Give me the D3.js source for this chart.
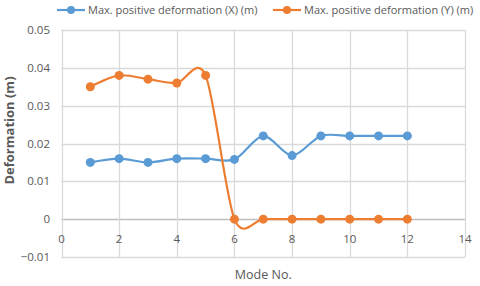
<!DOCTYPE html>
<html>
<head>
<meta charset="utf-8">
<script src="https://cdn.jsdelivr.net/npm/d3@7"></script>
<style>
  body { margin: 0; background: #fff; }
  text { font-family: "Open Sans", sans-serif; fill: #595959; }
</style>
</head>
<body>
<div id="chart"></div>
<script>
// data
var modes = [1, 2, 3, 4, 5, 6, 7, 8, 9, 10, 11, 12];
var defX = [0.015, 0.016, 0.015, 0.016, 0.016, 0.0158, 0.022, 0.0168, 0.022, 0.022, 0.022, 0.022];
var defY = [0.035, 0.038, 0.037, 0.036, 0.038, 0, 0, 0, 0, 0, 0, 0];
var seriesNames = ["Max. positive deformation (X) (m)", "Max. positive deformation (Y) (m)"];
var seriesColors = ["#5B9BD5", "#ED7D31"];
var xTicks = [0, 2, 4, 6, 8, 10, 12, 14];
var yTicks = [-0.01, 0, 0.01, 0.02, 0.03, 0.04, 0.05];

var width = 480, height = 286;
var plot = {left: 61.5, right: 465, top: 30, bottom: 257};

var svg = d3.select("#chart").append("svg")
  .attr("width", width)
  .attr("height", height);

var x = d3.scaleLinear().domain([0, 14]).range([plot.left, plot.right]);
var y = d3.scaleLinear().domain([-0.01, 0.05]).range([plot.bottom, plot.top]);

// grid
var grid = svg.append("g");
grid.selectAll(".hg").data(yTicks).enter().append("line")
  .attr("x1", plot.left).attr("x2", plot.right)
  .attr("y1", function(d) { return Math.round(y(d)) + 0.5; })
  .attr("y2", function(d) { return Math.round(y(d)) + 0.5; })
  .attr("stroke", function(d) { return d === 0 ? "#bfbfbf" : "#d9d9d9"; })
  .attr("stroke-width", 1.3);
grid.selectAll(".vg").data(xTicks).enter().append("line")
  .attr("y1", plot.top).attr("y2", plot.bottom)
  .attr("x1", function(d) { return Math.round(x(d)) + 0.5; })
  .attr("x2", function(d) { return Math.round(x(d)) + 0.5; })
  .attr("stroke", "#d9d9d9")
  .attr("stroke-width", 1.3);

// tick labels
svg.append("g").selectAll("text").data(yTicks).enter().append("text")
  .attr("x", 50)
  .attr("y", function(d) { return y(d) + 4; })
  .attr("text-anchor", "end")
  .style("font-size", "11.5px")
  .text(function(d) { return d === 0 ? "0" : d3.format(".2f")(d); });

svg.append("g").selectAll("text").data(xTicks).enter().append("text")
  .attr("x", function(d) { return x(d); })
  .attr("y", y(0) + 24)
  .attr("text-anchor", "middle")
  .style("font-size", "11.5px")
  .text(function(d) { return d; });

// axis titles
svg.append("text")
  .attr("transform", "translate(14," + ((plot.top + plot.bottom) / 2 - 13) + ") rotate(-90)")
  .attr("text-anchor", "middle")
  .style("font-size", "13px")
  .style("font-weight", "bold")
  .text("Deformation (m)");

svg.append("text")
  .attr("x", (plot.left + plot.right) / 2)
  .attr("y", 279)
  .attr("text-anchor", "middle")
  .style("font-size", "12.5px")
  .text("Mode No.");

// series
var allSeries = [defX, defY];
var line = d3.line()
  .x(function(d, i) { return x(modes[i]); })
  .y(function(d) { return y(d); })
  .curve(d3.curveCardinal.tension(0.1));

allSeries.forEach(function(vals, k) {
  var g = svg.append("g");
  g.append("path")
    .datum(vals)
    .attr("d", line)
    .attr("fill", "none")
    .attr("stroke", seriesColors[k])
    .attr("stroke-width", 2.2);
  g.selectAll("circle").data(vals).enter().append("circle")
    .attr("cx", function(d, i) { return x(modes[i]); })
    .attr("cy", function(d) { return y(d); })
    .attr("r", 4.5)
    .attr("fill", seriesColors[k]);
});

// legend
var legendX = [57, 273];
seriesNames.forEach(function(name, k) {
  var lg = svg.append("g").attr("transform", "translate(" + legendX[k] + ",10)");
  lg.append("line")
    .attr("x1", 0).attr("x2", 28)
    .attr("stroke", seriesColors[k])
    .attr("stroke-width", 2.2);
  lg.append("circle").attr("cx", 14).attr("r", 4).attr("fill", seriesColors[k]);
  lg.append("text")
    .attr("x", 31)
    .attr("y", 4)
    .style("font-size", "11px")
    .text(name);
});
</script>
</body>
</html>
